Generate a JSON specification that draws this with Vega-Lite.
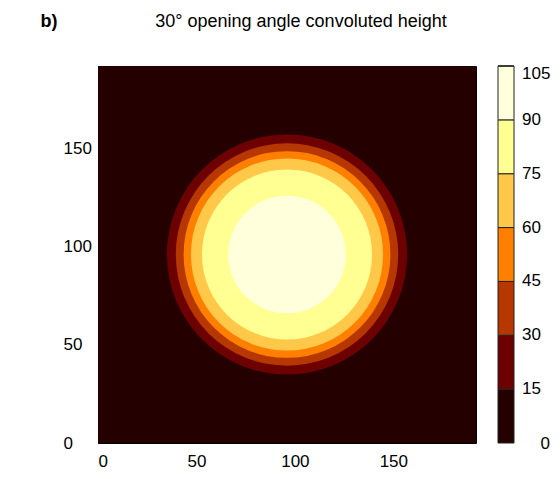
{
  "$schema": "https://vega.github.io/schema/vega-lite/v6.json",
  "autosize": "none",
  "padding": {"left": 98, "top": 66, "right": 84, "bottom": 36},
  "width": 378,
  "height": 377,
  "title": {
    "text": "30° opening angle convoluted height",
    "fontSize": 18,
    "fontWeight": "normal",
    "font": "Liberation Sans",
    "color": "black",
    "anchor": "middle",
    "baseline": "alphabetic",
    "offset": -33,
    "dx": 14
  },
  "datasets": {
    "background": [{"x0": 0, "x1": 192, "y0": 0, "y1": 192, "mid": 7.5}],
    "rings": [
      {"mid": 22.5, "r": 61.0},
      {"mid": 37.5, "r": 56.5},
      {"mid": 52.5, "r": 52.5},
      {"mid": 67.5, "r": 48.8},
      {"mid": 82.5, "r": 43.2},
      {"mid": 97.5, "r": 29.9}
    ]
  },
  "encoding": {
    "color": {
      "field": "mid", "type": "quantitative",
      "scale": {
        "type": "quantize", "domain": [0, 105], "nice": false, "zero": false,
        "range": ["#240000", "#6d0000", "#b63700", "#ff8000", "#ffc849", "#ffff92", "#ffffdb"]
      },
      "legend": {
        "type": "gradient", "direction": "vertical",
        "orient": "none", "legendX": 400, "legendY": 0,
        "gradientLength": 377, "gradientThickness": 16,
        "gradientStrokeColor": "#222", "gradientStrokeWidth": 1,
        "labelFontSize": 17, "labelFont": "Liberation Sans", "labelColor": "black",
        "labelOffset": 8, "labelOverlap": false,
        "padding": 0,
        "values": [0, 15, 30, 45, 60, 75, 90, 105],
        "title": "0", "titleOrient": "bottom", "titleAnchor": "end", "titleAlign": "right",
        "titleBaseline": "top", "titlePadding": -8,
        "titleFontSize": 17, "titleFontWeight": "normal", "titleFont": "Liberation Sans", "titleColor": "black"
      }
    }
  },
  "layer": [
    {
      "data": {"name": "background"},
      "mark": {"type": "rect"},
      "encoding": {
        "x": {
          "field": "x0", "type": "quantitative",
          "scale": {"domain": [0, 192], "nice": false, "zero": false},
          "axis": {
            "values": [0, 50, 100, 150], "domain": false, "ticks": true, "tickSize": -5,
            "tickColor": "black", "tickWidth": 1, "grid": false,
            "title": null, "labelFontSize": 17, "labelFont": "Liberation Sans", "labelColor": "black",
            "labelPadding": 15
          }
        },
        "x2": {"field": "x1"},
        "y": {
          "field": "y0", "type": "quantitative",
          "scale": {"domain": [0, 192], "nice": false, "zero": false},
          "axis": {
            "values": [0, 50, 100, 150], "domain": false, "ticks": true, "tickSize": -5,
            "tickColor": "black", "tickWidth": 1, "grid": false,
            "labelFontSize": 17, "labelFont": "Liberation Sans", "labelColor": "black",
            "labelAlign": "left", "labelPadding": 40,
            "title": "b)", "titleAngle": 0, "titleAlign": "left", "titleBaseline": "alphabetic",
            "titleX": -58, "titleY": -40, "titleFontSize": 18, "titleFontWeight": "bold",
            "titleFont": "Liberation Sans", "titleColor": "black"
          }
        },
        "y2": {"field": "y1"}
      }
    },
    {
      "data": {"name": "rings"},
      "mark": {"type": "arc", "theta": 0, "theta2": 6.2832},
      "encoding": {
        "radius": {
          "field": "r", "type": "quantitative", "stack": null,
          "scale": {"type": "linear", "domain": [0, 96], "range": [0, 189], "zero": true, "nice": false}
        }
      }
    }
  ],
  "config": {
    "view": {"stroke": "black", "strokeWidth": 1},
    "font": "Liberation Sans",
    "background": "white"
  }
}
